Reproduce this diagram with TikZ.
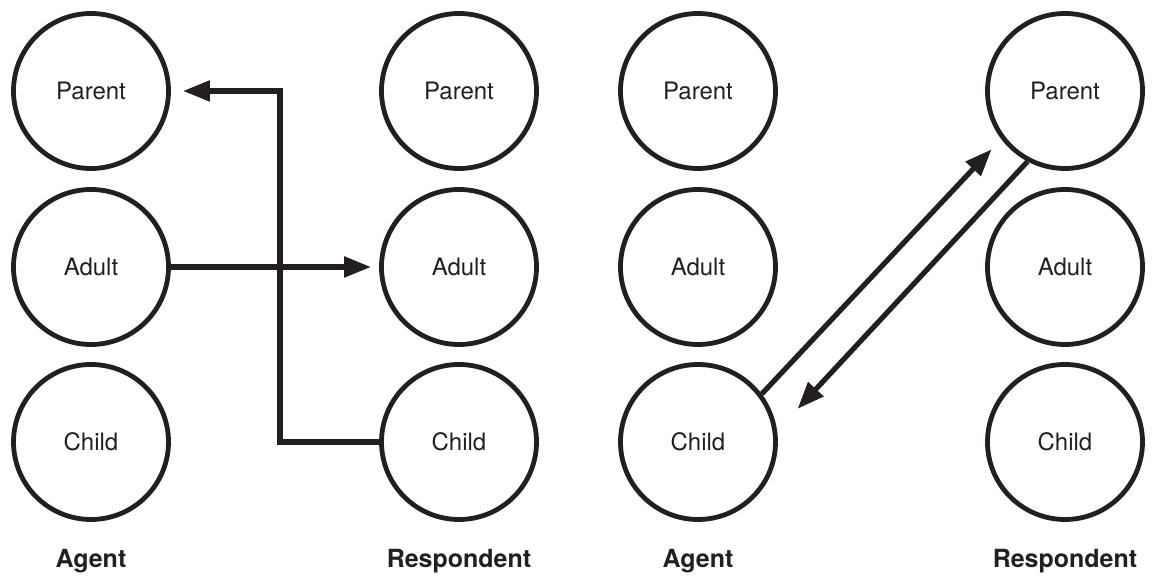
\documentclass[tikz,border=0pt]{standalone}
\usepackage{fontspec}
\setmainfont{TeX Gyre Heros}
\usepackage{tikz}
\usetikzlibrary{arrows.meta}
\definecolor{ink}{RGB}{35,31,32}

\begin{document}
\begin{tikzpicture}[x=0.5pt, y=0.5pt,
    person/.style={circle, draw=ink, line width=2.4pt, minimum size=77.5pt, inner sep=0pt,
      text=ink, font=\fontsize{12}{14}\selectfont},
    role/.style={text=ink, font=\fontsize{12.5}{14}\selectfont\bfseries},
    link/.style={draw=ink, line width=2.6pt, -{Triangle[length=13.5pt, width=10pt]}}]
    \useasboundingbox (0,0) rectangle (1153,576);
    % first pair
    \node[person] (ap1) at (91,485) {Parent};
    \node[person] (aa1) at (91,309) {Adult};
    \node[person] (ac1) at (91,134) {Child};
    \node[person] (rp1) at (459,485) {Parent};
    \node[person] (ra1) at (459,309) {Adult};
    \node[person] (rc1) at (459,134) {Child};
    \node[role] (ag1) at (91,15) {Agent};
    \node[role] (re1) at (459,15) {Respondent};
    % second pair
    \node[person] (ap2) at (698,485) {Parent};
    \node[person] (aa2) at (698,309) {Adult};
    \node[person] (ac2) at (698,134) {Child};
    \node[person] (rp2) at (1065,485) {Parent};
    \node[person] (ra2) at (1065,309) {Adult};
    \node[person] (rc2) at (1065,134) {Child};
    \node[role] (ag2) at (698,15) {Agent};
    \node[role] (re2) at (1065,15) {Respondent};
    % transactions
    \draw[link, shorten >=4pt] (aa1.east) -- (ra1.west);
    \coordinate (bend) at (280,134);
    \draw[link, shorten >=6pt] (rc1.west) -- (bend) |- (ap1.east);
    \draw[link, shorten >=7pt] (ac2.37) -- (rp2.217);
    \draw[link, shorten >=15pt] (rp2.242) -- (ac2.8);
  \end{tikzpicture}
\end{document}
